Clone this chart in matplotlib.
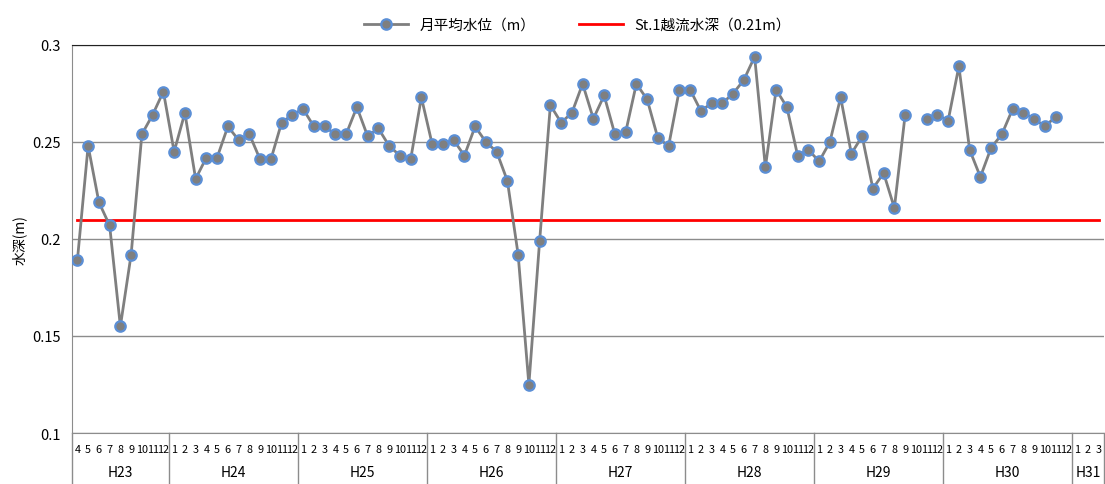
import numpy as np
import matplotlib
matplotlib.use("Agg")
import matplotlib.pyplot as plt

plt.rcParams["font.family"] = ["Noto Sans CJK JP", "DejaVu Sans"]

# month labels: H23 Apr .. H31 Mar
months = [4, 5, 6, 7, 8, 9, 10, 11, 12] + list(range(1, 13)) * 7 + [1, 2, 3]
years = ["H23", "H24", "H25", "H26", "H27", "H28", "H29", "H30", "H31"]
year_counts = [9, 12, 12, 12, 12, 12, 12, 12, 3]

# monthly mean water depth (m); None = no data
depth = [
    0.189, 0.248, 0.219, 0.207, 0.155, 0.192, 0.254, 0.264, 0.276,          # H23
    0.245, 0.265, 0.231, 0.242, 0.242, 0.258, 0.251, 0.254, 0.241, 0.241,  # H24
    0.260, 0.264,
    0.267, 0.258, 0.258, 0.254, 0.254, 0.268, 0.253, 0.257, 0.248, 0.243,  # H25
    0.241, 0.273,
    0.249, 0.249, 0.251, 0.243, 0.258, 0.250, 0.245, 0.230, 0.192, 0.125,  # H26
    0.199, 0.269,
    0.260, 0.265, 0.280, 0.262, 0.274, 0.254, 0.255, 0.280, 0.272, 0.252,  # H27
    0.248, 0.277,
    0.277, 0.266, 0.270, 0.270, 0.275, 0.282, 0.294, 0.237, 0.277, 0.268,  # H28
    0.243, 0.246,
    0.240, 0.250, 0.273, 0.244, 0.253, 0.226, 0.234, 0.216, 0.264, None,   # H29
    0.262, 0.264,
    0.261, 0.289, 0.246, 0.232, 0.247, 0.254, 0.267, 0.265, 0.262, 0.258,  # H30
    0.263, None,
    None, None, None,                                                      # H31
]
threshold = 0.21

x = np.arange(len(months))
y = np.array([np.nan if v is None else v for v in depth], dtype=float)

fig = plt.figure(figsize=(11.05, 4.85), dpi=100)
ax = fig.add_axes([72 / 1105, 1 - 434 / 485, 1032 / 1105, 388 / 485])

ax.set_ylim(0.1, 0.3)
ax.set_xlim(-0.5, len(months) - 0.5)
ax.set_yticks([0.1, 0.15, 0.2, 0.25, 0.3])
ax.set_yticklabels(["0.1", "0.15", "0.2", "0.25", "0.3"], fontsize=10.5)
ax.yaxis.grid(True, color="#8c8c8c", linewidth=1)
ax.set_axisbelow(True)

ax.plot(x, np.full(len(x), threshold), color="#ff0000", linewidth=2,
        label="St.1越流水深（0.21m）", zorder=2)
ax.plot(x, y, color="#7f7f7f", linewidth=2, marker="o", markersize=7.5,
        markerfacecolor="#7f7f7f", markeredgecolor="#5b8fd6", markeredgewidth=1.6,
        label="月平均水位（m）", zorder=3)

ax.set_ylabel("水深(m)", fontsize=10, labelpad=4)

ax.set_xticks(x)
ax.set_xticklabels([str(m) for m in months], fontsize=7.8)
ax.tick_params(axis="x", length=0, pad=8)
ax.tick_params(axis="y", length=0, pad=8)

for side in ["left", "bottom"]:
    ax.spines[side].set_color("#8c8c8c")
ax.spines["top"].set_color("#222222")
ax.spines["right"].set_visible(False)

# year group labels and separators
trans = ax.get_xaxis_transform()
start = 0
bounds = [-0.5]
for name, n in zip(years, year_counts):
    ax.text(start + (n - 1) / 2, -0.1, name, transform=trans, ha="center", va="center",
            fontsize=10)
    start += n
    bounds.append(start - 0.5)
for b in bounds:
    ax.plot([b, b], [0, -0.128], transform=trans, color="#8c8c8c", linewidth=1, clip_on=False)

handles, labels = ax.get_legend_handles_labels()
ax.legend(handles[::-1], labels[::-1], loc="lower center", bbox_to_anchor=(0.49, 1.0),
          ncol=2, frameon=False, fontsize=10.5, handlelength=3, columnspacing=3)

fig.savefig("out.png", dpi=100)
